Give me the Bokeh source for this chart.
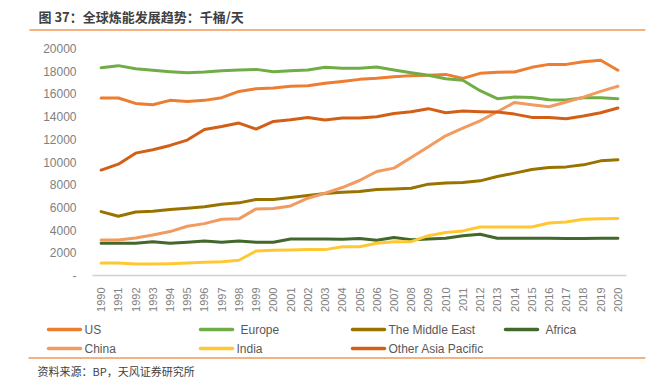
from bokeh.plotting import figure
from bokeh.layouts import column
from bokeh.models import FixedTicker, BoxAnnotation
from bokeh.core.properties import value
from bokeh.embed import file_html
from bokeh.resources import INLINE

years = list(range(1990, 2021))
us = [15640, 15640, 15160, 15050, 15430, 15340, 15430, 15670, 16220, 16460,
      16520, 16670, 16720, 16930, 17100, 17280, 17370, 17520, 17610, 17640,
      17720, 17370, 17810, 17900, 17930, 18340, 18600, 18600, 18840, 18960, 18080]
europe = [18310, 18490, 18220, 18080, 17960, 17870, 17930, 18050, 18110, 18160,
          17960, 18050, 18110, 18340, 18250, 18250, 18370, 18110, 17870, 17640,
          17340, 17200, 16280, 15580, 15720, 15690, 15490, 15460, 15670, 15670, 15580]
middle_east = [5630, 5220, 5600, 5660, 5810, 5930, 6050, 6280, 6400, 6690,
               6690, 6870, 7040, 7220, 7340, 7400, 7570, 7630, 7690, 8050,
               8140, 8190, 8340, 8720, 9020, 9340, 9510, 9570, 9750, 10100, 10190]
africa = [2840, 2840, 2840, 2980, 2840, 2930, 3040, 2930, 3040, 2930,
          2930, 3220, 3220, 3220, 3190, 3250, 3100, 3340, 3160, 3220,
          3280, 3510, 3630, 3280, 3280, 3280, 3280, 3270, 3270, 3280, 3280]
china = [3130, 3130, 3310, 3570, 3870, 4340, 4570, 4960, 4990, 5870,
         5900, 6130, 6810, 7250, 7750, 8370, 9160, 9460, 10400, 11350,
         12310, 12990, 13630, 14430, 15250, 15050, 14870, 15280, 15720, 16220, 16670]
india = [1100, 1100, 1010, 1010, 1040, 1100, 1160, 1220, 1340, 2160,
         2220, 2250, 2280, 2280, 2540, 2540, 2840, 2980, 2980, 3510,
         3780, 3930, 4280, 4280, 4280, 4280, 4630, 4720, 4960, 4990, 5020]
other_ap = [9290, 9810, 10780, 11080, 11460, 11930, 12870, 13130, 13430, 12900,
            13570, 13720, 13930, 13700, 13870, 13870, 13990, 14280, 14430, 14700,
            14340, 14490, 14430, 14400, 14220, 13930, 13930, 13810, 14050, 14340, 14760]

series_names = ["US", "Europe", "The Middle East", "Africa", "China", "India", "Other Asia Pacific"]
series_values = [us, europe, middle_east, africa, china, india, other_ap]
series_colors = ["#ED7D31", "#70AD47", "#997300", "#43682B", "#F29B61", "#FFC833", "#D35F17"]
y_ticks = list(range(0, 20001, 2000))

title_text = "图 37：全球炼能发展趋势：千桶/天"
source_text = "资料来源：BP，天风证券研究所"

W = 659
H_HEAD, H_MAIN = 40, 280
H_FOOT = 391 - H_HEAD - H_MAIN
RULE_COLOR = "#F4B183"
TXT_FONT = "Liberation Sans"
CJK_FONT = "Noto Sans CJK SC"


def blank(h):
    f = figure(width=W, height=h, output_backend="svg", toolbar_location=None,
               x_range=(0, W), y_range=(h, 0), x_axis_type=None, y_axis_type=None,
               min_border=0)
    f.outline_line_color = None
    f.xgrid.visible = False
    f.ygrid.visible = False
    return f


def rule(fig, x0, x1, y):
    fig.add_layout(BoxAnnotation(left=x0, right=x1, top=y - 1, bottom=y + 1,
                                 fill_color=RULE_COLOR, fill_alpha=1.0,
                                 line_color=None))


# ---- header: title and rule
head = blank(H_HEAD)
head.text(x=[38], y=[16], text=[title_text], text_baseline="middle", text_align="left",
          text_font=value(CJK_FONT), text_font_style="bold", text_font_size="13px",
          text_color="#404040")
rule(head, 29, 645, 29.5)

# ---- main chart
p = figure(width=W, height=H_MAIN, output_backend="svg", toolbar_location=None,
           x_range=(1989.5, 2020.5), y_range=(0, 20000),
           min_border_left=92, min_border_right=33, min_border_top=8, min_border_bottom=45)
p.outline_line_color = None
p.xgrid.visible = False
p.ygrid.visible = False

for name, vals, col in zip(series_names, series_values, series_colors):
    p.line(years, vals, line_color=col, line_width=3, line_join="round", line_cap="round")

p.yaxis.ticker = FixedTicker(ticks=y_ticks)
p.yaxis.major_label_overrides = {0: "-"}
p.yaxis.axis_line_color = None
p.yaxis.major_tick_line_color = None
p.yaxis.minor_tick_line_color = None
p.yaxis.major_label_text_font = TXT_FONT
p.yaxis.major_label_text_font_size = "12px"
p.yaxis.major_label_text_color = "#808080"
p.yaxis.major_label_standoff = 10

p.xaxis.ticker = FixedTicker(ticks=years)
p.xaxis.major_label_orientation = 1.5707963
p.xaxis.axis_line_color = "#D0D0D0"
p.xaxis.axis_line_width = 1.5
p.xaxis.major_tick_line_color = None
p.xaxis.minor_tick_line_color = None
p.xaxis.major_label_text_font = TXT_FONT
p.xaxis.major_label_text_font_size = "11px"
p.xaxis.major_label_text_color = "#808080"
p.xaxis.major_label_standoff = 6

# ---- footer: legend swatches, legend labels, rule, source
foot = blank(H_FOOT)
leg_x = [48, 200, 352, 505, 48, 200, 352]
leg_y = [9, 9, 9, 9, 28, 28, 28]
leg_gap = [4, 8, 4, 8, 4, 4, 4]
foot.segment(x0=leg_x, x1=[x + 32 for x in leg_x], y0=leg_y, y1=leg_y,
             line_color=series_colors, line_width=3.5, line_cap="round")
foot.text(x=[x + 32 + g for x, g in zip(leg_x, leg_gap)], y=leg_y, text=series_names,
          text_baseline="middle", text_align="left", text_font=value(TXT_FONT),
          text_font_size="12px", text_color="#595959")
rule(foot, 28, 645, 37.5)
foot.text(x=[37], y=[50], text=[source_text], text_baseline="middle", text_align="left",
          text_font=value(CJK_FONT), text_font_size="11px", text_color="#404040")

layout = column(column(head), column(p), column(foot), spacing=0)
open("out.html", "w").write(file_html(layout, INLINE))
